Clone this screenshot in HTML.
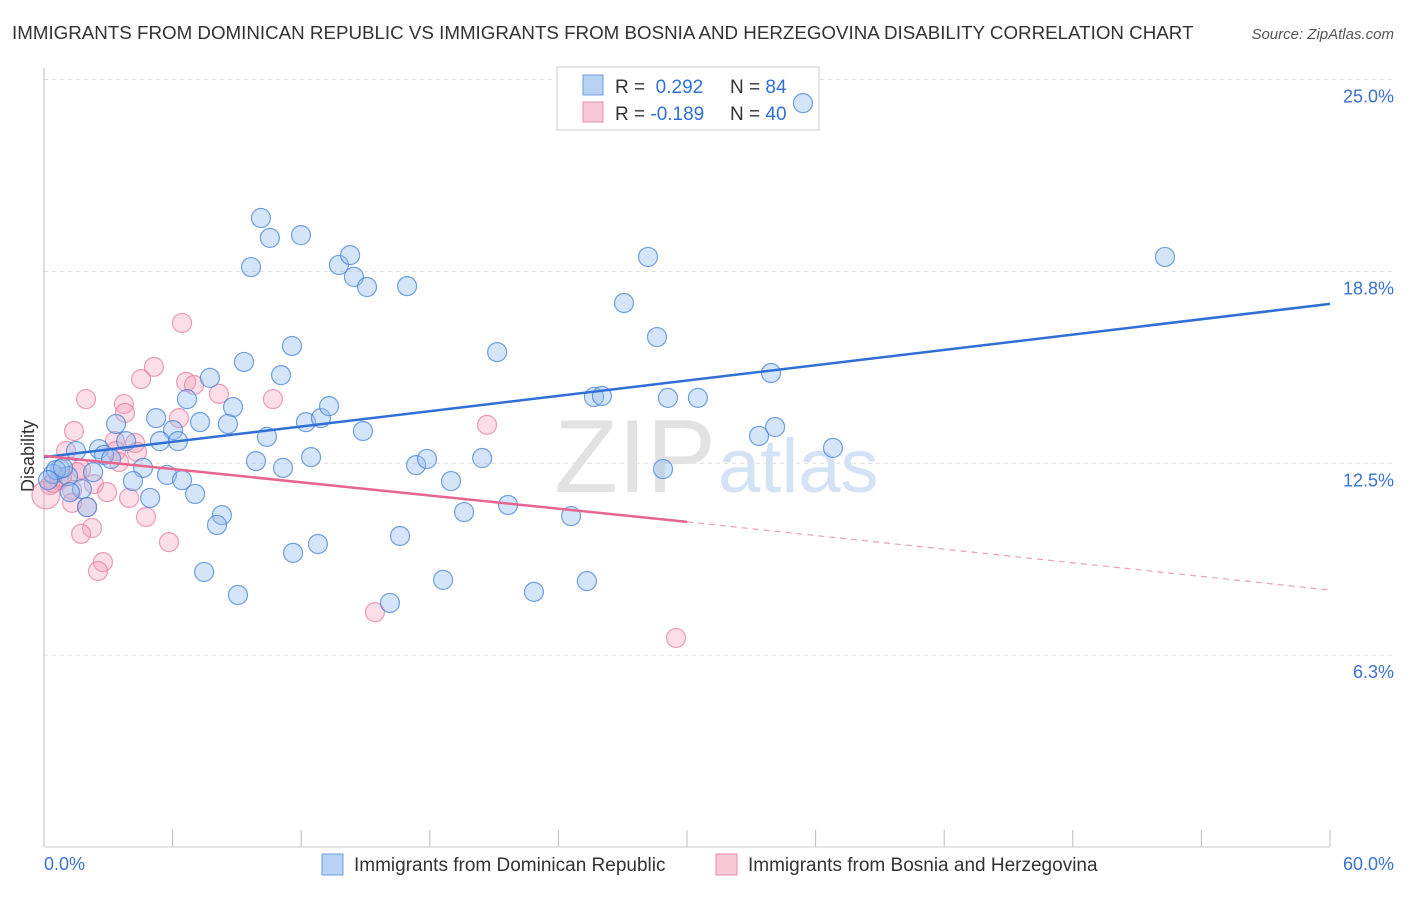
<!DOCTYPE html>
<html><head><meta charset="utf-8"><style>
body{margin:0;background:#fff;font-family:"Liberation Sans",sans-serif;}
svg text{font-family:"Liberation Sans",sans-serif;}
</style></head><body>
<svg width="1406" height="892" viewBox="0 0 1406 892" xmlns="http://www.w3.org/2000/svg">
<text x="12" y="39" font-size="18.75" fill="#333">IMMIGRANTS FROM DOMINICAN REPUBLIC VS IMMIGRANTS FROM BOSNIA AND HERZEGOVINA DISABILITY CORRELATION CHART</text>
<text x="1394" y="39" font-size="15" fill="#555" font-style="italic" text-anchor="end">Source: ZipAtlas.com</text>
<g id="grid"></g>
<line x1="44" y1="68" x2="44" y2="847" stroke="#bbb"/>
<line x1="44" y1="847" x2="1330" y2="847" stroke="#ccc"/>
<g id="xticks"></g>
<text x="716" y="492" font-size="104" fill="#e2e2e2" text-anchor="end" font-family="Liberation Serif">ZIP</text>
<text x="718" y="492" font-size="76" fill="#d3e2f4">atlas</text>
<text transform="translate(34,456) rotate(-90)" font-size="18" fill="#333" text-anchor="middle">Disability</text>
<g>
<rect x="557" y="67" width="262" height="63" fill="#fff" stroke="#ccc"/>
<rect x="583" y="75" width="20" height="20" fill="#b8d2f4" stroke="#6d9de0"/>
<rect x="583" y="102" width="20" height="20" fill="#f9c8d6" stroke="#e98aa8"/>
<text x="615" y="93" font-size="19" fill="#333">R = <tspan fill="#2f6fd6">&#160;0.292</tspan><tspan x="730">N = </tspan><tspan fill="#2f6fd6">84</tspan></text>
<text x="615" y="120" font-size="19" fill="#333">R = <tspan fill="#2f6fd6">-0.189</tspan><tspan x="730">N = </tspan><tspan fill="#2f6fd6">40</tspan></text>
</g>
<g id="pts"></g>
<g id="lines"></g>
<text x="44" y="870" font-size="18" fill="#3a72d0">0.0%</text>
<text x="1394" y="870" font-size="18" fill="#3a72d0" text-anchor="end">60.0%</text>
<g>
<rect x="322" y="854" width="21" height="21" fill="#b8d2f4" stroke="#6d9de0"/>
<text x="354" y="871" font-size="19" fill="#333">Immigrants from Dominican Republic</text>
<rect x="716" y="854" width="21" height="21" fill="#f9c8d6" stroke="#e98aa8"/>
<text x="748" y="871" font-size="19" fill="#333">Immigrants from Bosnia and Herzegovina</text>
</g>
</svg>
<script>
const yTicks=[25,18.75,12.5,6.25];
const yTickLabels=["25.0%","18.8%","12.5%","6.3%"];
const xTicks=[0,6,12,18,24,30,36,42,48,54,60];
const bluePx=[[803,103],[1165,257],[261,218],[270,238],[301,235],[251,267],[339,265],[350,255],[354,277],[367,287],[407,286],[648,257],[624,303],[657,337],[292,346],[497,352],[244,362],[281,375],[210,378],[187,399],[233,407],[156,418],[173,430],[228,424],[200,422],[116,424],[306,422],[321,418],[329,406],[363,431],[267,437],[160,441],[178,441],[126,441],[99,449],[104,455],[76,451],[111,459],[143,468],[311,457],[256,461],[283,468],[416,465],[427,459],[482,458],[451,481],[167,475],[182,480],[133,481],[93,472],[60,469],[53,474],[68,476],[82,489],[70,492],[195,494],[150,498],[87,507],[222,515],[217,525],[464,512],[508,505],[571,516],[594,397],[602,396],[668,398],[698,398],[771,373],[759,436],[775,427],[833,448],[663,469],[400,536],[318,544],[293,553],[204,572],[238,595],[390,603],[443,580],[534,592],[587,581],[56,470],[48,480],[63,468]];
const pinkPx=[[182,323],[154,367],[141,379],[186,382],[194,385],[219,394],[273,399],[86,399],[124,404],[125,413],[179,418],[74,431],[487,425],[115,441],[135,443],[66,451],[116,451],[137,452],[81,469],[77,472],[94,484],[107,492],[59,480],[50,485],[46,495],[72,490],[129,498],[87,507],[72,503],[146,517],[92,528],[81,534],[169,542],[103,562],[98,571],[375,612],[676,638],[62,477],[53,483],[119,462]];
const blueX=bluePx.map(p=>+((p[0]-44)/1286*60).toFixed(2));
const blueY=bluePx.map(p=>+((847-p[1])/30.7).toFixed(2));
const pinkX=pinkPx.map(p=>+((p[0]-44)/1286*60).toFixed(2));
const pinkY=pinkPx.map(p=>+((847-p[1])/30.7).toFixed(2));
const blueTrend=[12.7,17.69], pinkTrend=[12.74,10.59,8.37];
const X=v=>44+v/60*1286, Y=v=>847-v*30.7;
const NS="http://www.w3.org/2000/svg";
function mk(t,a,parent){const e=document.createElementNS(NS,t);for(const k in a)e.setAttribute(k,a[k]);parent.appendChild(e);return e;}
const grid=document.getElementById('grid');
yTicks.forEach((v,i)=>{
 const l=mk('line',{x1:44,x2:1394,y1:Y(v),y2:Y(v),stroke:'#ddd','stroke-dasharray':'4,4'},grid);
 
 
 const t=mk('text',{x:1394,y:Y(v)+23,'font-size':18,fill:'#3a72d0','text-anchor':'end'},grid);
 t.textContent=yTickLabels[i];
 
 
});
const xt=document.getElementById('xticks');
xTicks.forEach(v=>{
 const l=mk('line',{x1:X(v),x2:X(v),y1:830,y2:847,stroke:'#bbb'},xt);
 
 
});
const pts=document.getElementById('pts');
pinkX.forEach((x,i)=>{
 const c=mk('circle',{cx:X(x),cy:Y(pinkY[i]),r:i==24?14:9.5,fill:'rgba(244,160,185,0.35)',stroke:'rgba(230,120,155,0.7)','stroke-width':1.2},pts);
 
 
});
blueX.forEach((x,i)=>{
 const c=mk('circle',{cx:X(x),cy:Y(blueY[i]),r:9.5,fill:'rgba(150,190,240,0.4)',stroke:'rgba(70,130,215,0.75)','stroke-width':1.2},pts);
 
 
});
const lines=document.getElementById('lines');
const bl=mk('line',{x1:X(0),y1:Y(blueTrend[0]),x2:X(60),y2:Y(blueTrend[1]),stroke:'#2f6fd6','stroke-width':2.5},lines);


const pl=mk('line',{x1:X(0),y1:Y(pinkTrend[0]),x2:X(30),y2:Y(pinkTrend[1]),stroke:'#e8658f','stroke-width':2.5},lines);


const pd=mk('line',{x1:X(30),y1:Y(pinkTrend[1]),x2:X(60),y2:Y(pinkTrend[2]),stroke:'#e8a0b6','stroke-width':1.2,'stroke-dasharray':'6,5'},lines);


</script>
</body></html>
